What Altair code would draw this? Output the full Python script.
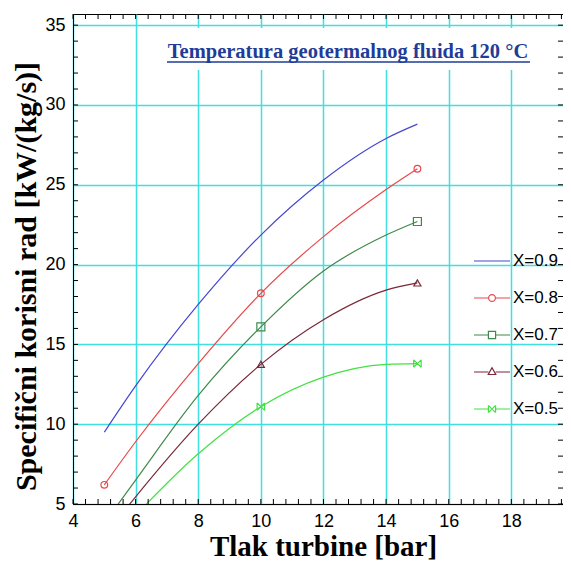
import altair as alt
import pandas as pd

# ---------------- data ----------------
series = ["X=0.9", "X=0.8", "X=0.7", "X=0.6", "X=0.5"]
colors = ["#4646d2", "#e8484a", "#3f8a4a", "#7a2838", "#44e044"]

x_vals = [5, 6, 8, 10, 12, 14, 15]
y_09 = [9.5, 12.4, 17.5, 21.85, 25.3, 27.9, 28.8]
y_08 = [6.2, 8.9, 13.8, 18.2, 21.75, 24.7, 26.0]
y_07 = [3.8, 6.5, 11.8, 16.1, 19.6, 21.85, 22.7]
y_06 = [3.0, 5.45, 10.0, 13.75, 16.55, 18.4, 18.85]
y_05 = [2.2, 4.3, 8.15, 11.1, 12.95, 13.75, 13.8]

marker_x = [5, 10, 15]

x_ticks = [4, 6, 8, 10, 12, 14, 16, 18]
y_ticks = [5, 10, 15, 20, 25, 30, 35]
x_minor = [round(4 + 0.4 * k, 2) for k in range(40)]
y_minor = list(range(5, 36))

title_text = "Temperatura geotermalnog fluida 120 °C"
x_title = "Tlak turbine [bar]"
y_title = "Specifični korisni rad [kW/(kg/s)]"

# ---------------- tables ----------------
rows = []
for s, ys in zip(series, [y_09, y_08, y_07, y_06, y_05]):
    for xv, yv in zip(x_vals, ys):
        rows.append({"series": s, "x": xv, "y": yv})
df = pd.DataFrame(rows)
mdf = df[df["x"].isin(marker_x)]

W, H = 490, 490
SANS = "Liberation Sans, Arial, sans-serif"
SERIF = "Liberation Serif, Times New Roman, serif"
GRID = "#40e0e0"

xscale = alt.Scale(domain=[4, 19.65], nice=False, zero=False)
yscale = alt.Scale(domain=[5, 35.7], nice=False, zero=False)

xaxis = alt.Axis(values=x_ticks, grid=True, gridColor=GRID, gridWidth=1.5,
                 tickSize=0, domain=True, domainColor="black", domainWidth=1,
                 labelFont=SANS, labelFontSize=18, labelColor="black",
                 labelPadding=8, labelFlush=False, labelOverlap=False,
                 title=x_title, titleFont=SERIF, titleFontSize=29,
                 titleFontWeight="bold", titleColor="black",
                 titleX=250, titleY=51, titleAlign="center",
                 titleBaseline="alphabetic")
yaxis = alt.Axis(values=y_ticks, grid=True, gridColor=GRID, gridWidth=1.5,
                 tickSize=0, domain=True, domainColor="black", domainWidth=1,
                 labelFont=SANS, labelFontSize=18, labelColor="black",
                 labelPadding=8, labelFlush=False, labelOverlap=False,
                 title=y_title, titleFont=SERIF, titleFontSize=30,
                 titleFontWeight="bold", titleColor="black",
                 titleX=-47, titleY=262, titleAngle=270, titleAlign="center",
                 titleBaseline="middle")

X = alt.X("x:Q", scale=xscale, axis=xaxis)
Y = alt.Y("y:Q", scale=yscale, axis=yaxis)

marker_shapes = {
    "X=0.8": ("circle", 45),
    "X=0.7": ("square", 64),
    "X=0.6": ("triangle-up", 50),
    "X=0.5": ("M-1,-1L1,1M-1,1L1,-1M-1,-1L-1,1M1,-1L1,1", 56),
}

layers = []
for s, c in zip(series, colors):
    layers.append(
        alt.Chart(df).transform_filter(alt.datum.series == s)
        .mark_line(interpolate="monotone", clip=True, strokeWidth=1.2, color=c)
        .encode(x=X, y=Y)
    )
    if s in marker_shapes:
        shp, sz = marker_shapes[s]
        layers.append(
            alt.Chart(mdf).transform_filter(alt.datum.series == s)
            .mark_point(shape=shp, size=sz, filled=False, strokeWidth=1.2,
                        clip=True, opacity=1, color=c)
            .encode(x=X, y=Y)
        )

# legend symbols: line with the marker in the middle
seg = "M-1,0L-0.2,0M0.2,0L1,0"
legend_paths = [
    "M-1,0L1,0",
    seg + "M-0.19,0A0.19,0.19,0,1,0,0.19,0A0.19,0.19,0,1,0,-0.19,0",
    seg + "M-0.2,-0.2L0.2,-0.2L0.2,0.2L-0.2,0.2Z",
    seg + "M0,-0.24L0.21,0.14L-0.21,0.14Z",
    seg + "M-0.2,-0.2L0.2,0.2M-0.2,0.2L0.2,-0.2M-0.2,-0.2L-0.2,0.2M0.2,-0.2L0.2,0.2",
]
leg = dict(orient="none", legendX=400, legendY=228, title=None, padding=0,
           labelFont=SANS, labelFontSize=17, labelColor="black", labelOffset=2,
           symbolSize=1296, symbolStrokeWidth=1.2, symbolOpacity=1, rowPadding=10)
layers.append(
    alt.Chart(df).mark_point(opacity=0, filled=False, size=1296).encode(
        x=X, y=Y,
        color=alt.Color("series:N", scale=alt.Scale(domain=series, range=colors),
                        legend=alt.Legend(**leg)),
        shape=alt.Shape("series:N", scale=alt.Scale(domain=series, range=legend_paths),
                        legend=alt.Legend(**leg)),
    )
)

# minor ticks on all four sides
xm = alt.Chart(pd.DataFrame({"x": x_minor}))
ym = alt.Chart(pd.DataFrame({"y": y_minor}))
layers += [
    xm.mark_rule(color="black", strokeWidth=1).encode(x=X, y=alt.value(H - 5), y2=alt.value(H)),
    xm.mark_rule(color="black", strokeWidth=1).encode(x=X, y=alt.value(0), y2=alt.value(5)),
    ym.mark_rule(color="black", strokeWidth=1).encode(y=Y, x=alt.value(0), x2=alt.value(5)),
    ym.mark_rule(color="black", strokeWidth=1).encode(y=Y, x=alt.value(W - 5), x2=alt.value(W)),
]

one = alt.Chart(pd.DataFrame({"a": [0]}))
layers += [
    one.mark_rect(color="white").encode(
        x=alt.value(87), x2=alt.value(463), y=alt.value(14), y2=alt.value(56)),
    one.mark_text(text=title_text, font=SERIF, fontWeight="bold", fontSize=20.5,
                  color="#1f3c98", align="center", baseline="alphabetic").encode(
        x=alt.value(275), y=alt.value(44)),
    one.mark_rule(color="#1f3c98", strokeWidth=1.5).encode(
        x=alt.value(94), x2=alt.value(457), y=alt.value(48)),
]

chart = alt.layer(*layers).properties(
    width=W, height=H,
    autosize=alt.AutoSizeParams(type="none"),
    padding={"left": 65, "top": 6, "right": 0, "bottom": 57},
).configure_view(stroke="black", strokeWidth=1)

chart.save("out.html", embed_options={"renderer": "svg", "actions": False})
